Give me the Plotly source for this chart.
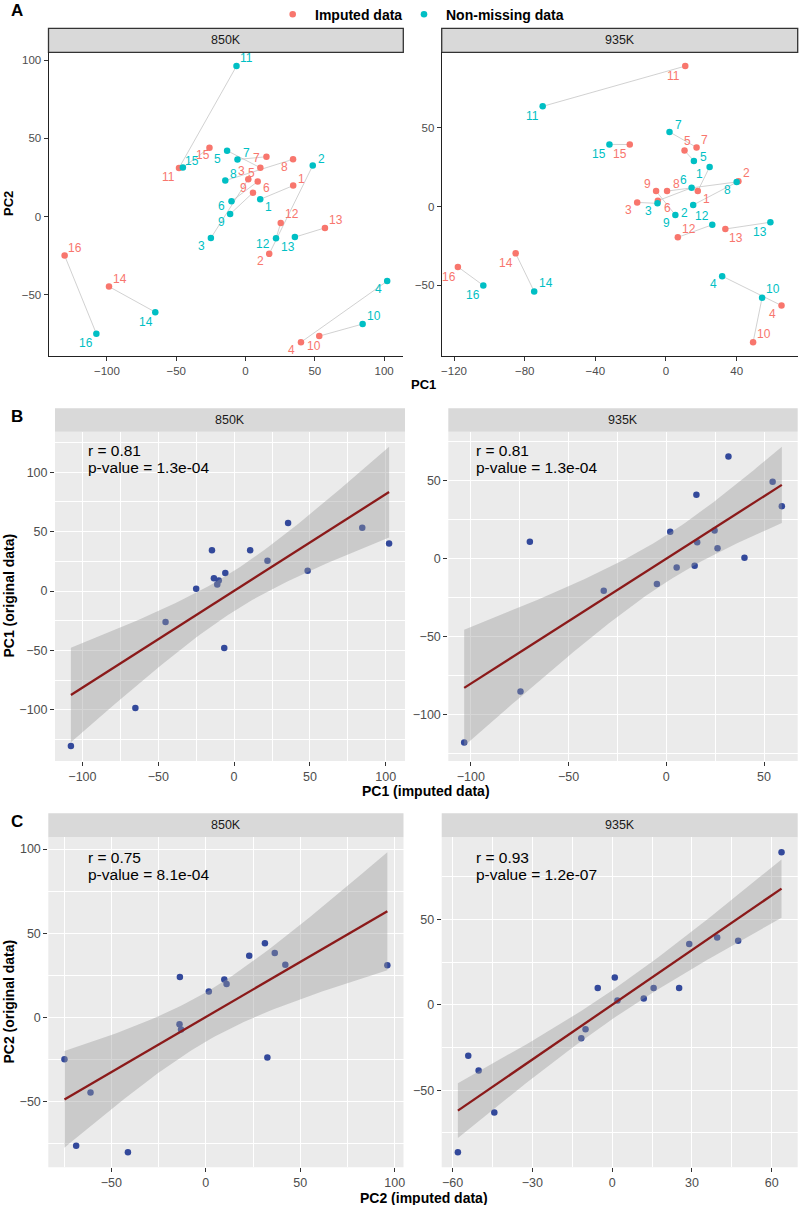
import numpy as np
import plotly.graph_objects as go

W, H = 800, 1205
FONT = "Liberation Sans, Arial, Helvetica, sans-serif"

SAMPLE_IDS = [str(i) for i in range(1, 17)]
DATASETS = ["850K", "935K"]
LEGEND_LABELS = ["Imputed data", "Non-missing data"]

# ---- data (samples 1..16) ----
# 850K
IMPUTED_PC1_850K = [34.4, 17.1, 2.0, 40.0, 10.7, 8.8, 15.1, 34.3, 5.4, 53.2, -48.0, 25.4, 57.3, -98.5, -26.0, -130.5]
IMPUTED_PC2_850K = [19.8, -23.8, 23.9, -80.2, 31.2, 22.4, 38.2, 36.6, 15.3, -76.3, 31.0, -4.1, -7.2, -44.7, 44.0, -24.9]
NONMISS_PC1_850K = [10.6, 48.5, -25.0, 102.2, -13.3, -10.1, -5.8, -14.6, -11.1, 84.5, -6.5, 22.0, 35.6, -65.1, -45.2, -107.6]
NONMISS_PC2_850K = [11.0, 32.6, -13.7, -41.2, 42.1, 9.8, 36.5, 23.0, 1.6, -68.6, 96.1, -13.9, -13.1, -61.0, 31.3, -74.8]
# 935K
IMPUTED_PC1_935K = [18.0, 41.0, -16.3, 65.4, 10.5, -4.6, 17.3, 0.6, -5.6, 49.3, 10.9, 6.7, 33.6, -85.1, -20.5, -117.8]
IMPUTED_PC2_935K = [9.8, 16.0, 2.6, -63.0, 35.6, 3.7, 37.6, 9.8, 9.8, -86.3, 89.3, -19.6, -14.3, -29.8, 39.4, -38.4]
NONMISS_PC1_935K = [24.7, 15.4, -4.8, 31.8, 15.8, 14.5, 2.0, 40.0, 5.3, 54.4, -69.8, 26.2, 59.1, -74.6, -32.0, -103.4]
NONMISS_PC2_935K = [25.2, 1.0, 2.0, -44.3, 29.0, 11.9, 47.4, 15.6, -5.4, -58.0, 63.7, -11.6, -10.0, -54.1, 39.5, -50.2]

STATS_TEXT = {
    ("B", "850K"): ("r = 0.81", "p-value = 1.3e-04"),
    ("B", "935K"): ("r = 0.81", "p-value = 1.3e-04"),
    ("C", "850K"): ("r = 0.75", "p-value = 8.1e-04"),
    ("C", "935K"): ("r = 0.93", "p-value = 1.2e-07"),
}

# ---- label offsets (pixels: right, down) for panel A text labels ----
OFFS_IMP_850 = [(8.3, -6.7), (-9, 7), (-7, -8.3), (-9, 7.7), (-8.7, 5), (8.7, 6.6), (-10.3, 1.3), (-9, 8),
                (-10, -4.2), (-5, 9.7), (-10.7, 9.4), (11, -9), (11, -8.3), (10.6, -7.7), (-6.7, 7.3), (10.7, -8)]
OFFS_NON_850 = [(8, 8), (8.6, -6.6), (-9, 8), (-8.7, 8), (-9.4, 8), (-9.7, 5), (8.7, -6.3), (8, -7),
                (-9, 8), (11, -8.3), (10, -8), (-12.7, 6), (-7, 10), (-9.6, 9.4), (8.7, -6.6), (-10.3, 9.6)]
OFFS_IMP_935 = [(8.3, 8.3), (8.3, -8), (-8.7, 8), (-8.7, 8.3), (3, -9.3), (9.6, 7.6), (8.3, -7), (9, -6.7),
                (-9, -6.7), (11, -8.3), (-11.3, 10), (10.7, -8.6), (11, 9.3), (-10, 9.4), (-9.7, 9.7), (-9, 10)]
OFFS_NON_935 = [(-9.7, 7.6), (-8.3, 7.6), (-8.7, 7.4), (-9, 8), (9.3, -4), (-8, -7.7), (8.6, -6.7), (-9.4, 8.3),
                (-8.6, 7.7), (10.7, -8.4), (-10.6, 9.7), (-10.6, -8.7), (-10.3, 9.4), (11.3, -8.4), (-10.3, 10), (-10.6, 9.6)]

RED = "#F8766D"
CYAN = "#00BFC4"
DOT_BLUE = "#33499B"
LINE_RED = "#8B1A1A"
T_975_DF14 = 2.1447866879169273


def pxx(x):
    return x / W


def pyy(y):
    return 1 - y / H


def expand(lo, hi, f=0.05):
    d = hi - lo
    return [lo - f * d, hi + f * d]


def smooth(x, y, ngrid=80):
    x = np.asarray(x, float)
    y = np.asarray(y, float)
    n = len(x)
    b1, b0 = np.polyfit(x, y, 1)
    xg = np.linspace(x.min(), x.max(), ngrid)
    yh = b0 + b1 * xg
    res = y - (b0 + b1 * x)
    s = np.sqrt((res ** 2).sum() / (n - 2))
    sxx = ((x - x.mean()) ** 2).sum()
    se = s * np.sqrt(1.0 / n + (xg - x.mean()) ** 2 / sxx)
    return xg, yh, yh - T_975_DF14 * se, yh + T_975_DF14 * se


fig = go.Figure()
annotations = []
shapes = []

# panel pixel geometry: (x0, x1, strip_top, plot_top, plot_bottom)
GEOM = {
    1: (48.5, 403.3, 28.3, 52.3, 356.0),
    2: (441.7, 797.7, 28.3, 52.3, 356.0),
    3: (55.0, 405.0, 408.3, 431.7, 761.0),
    4: (448.3, 797.7, 408.3, 431.7, 761.0),
    5: (48.3, 403.5, 813.3, 837.3, 1167.3),
    6: (441.7, 797.7, 813.3, 837.3, 1167.3),
}
DTICK = {1: (50, 50), 2: (40, 50), 3: (50, 50), 4: (50, 50), 5: (50, 50), 6: (30, 50)}

layout_axes = {}


def axname(i, a):
    return a + ("" if i == 1 else str(i))


def set_axes(i, xr, yr, classic):
    x0, x1, st, pt, pb = GEOM[i]
    dx, dy = DTICK[i]
    tsize = 11.5 if classic else 12.5
    common = dict(zeroline=False, ticks="outside", ticklen=4, tickwidth=1, tickcolor="#333333",
                  tickfont=dict(family=FONT, size=tsize, color="#4D4D4D"), tick0=0, showticklabels=True)
    if classic:
        common.update(showgrid=False, showline=True, linecolor="#222222", linewidth=1)
    else:
        common.update(showgrid=True, gridcolor="white", gridwidth=1.1, showline=False)
    xa = dict(common, domain=[pxx(x0), pxx(x1)], range=xr, dtick=dx, anchor=axname(i, "y"))
    ya = dict(common, domain=[pyy(pb), pyy(pt)], range=yr, dtick=dy, anchor=axname(i, "x"))
    if not classic:
        xa["minor"] = dict(dtick=dx / 2, tick0=0, showgrid=True, gridcolor="white", gridwidth=0.5, ticks="")
        ya["minor"] = dict(dtick=dy / 2, tick0=0, showgrid=True, gridcolor="white", gridwidth=0.5, ticks="")
        shapes.append(dict(type="rect", xref="paper", yref="paper", x0=pxx(x0), x1=pxx(x1),
                           y0=pyy(pb), y1=pyy(pt), fillcolor="#EBEBEB", line=dict(width=0), layer="below"))
    layout_axes["xaxis" + ("" if i == 1 else str(i))] = xa
    layout_axes["yaxis" + ("" if i == 1 else str(i))] = ya
    # strip
    shapes.append(dict(type="rect", xref="paper", yref="paper", x0=pxx(x0), x1=pxx(x1),
                       y0=pyy(pt), y1=pyy(st), fillcolor="#D9D9D9",
                       line=dict(color="#333333", width=1.3) if classic else dict(width=0), layer="below"))


# ---------------- Panel A ----------------
A_DATA = {
    "850K": (IMPUTED_PC1_850K, IMPUTED_PC2_850K, NONMISS_PC1_850K, NONMISS_PC2_850K, OFFS_IMP_850, OFFS_NON_850),
    "935K": (IMPUTED_PC1_935K, IMPUTED_PC2_935K, NONMISS_PC1_935K, NONMISS_PC2_935K, OFFS_IMP_935, OFFS_NON_935),
}
for k, ds in enumerate(DATASETS):
    i = k + 1
    ix, iy, nx, ny, oi, on = A_DATA[ds]
    xs = "x" if i == 1 else f"x{i}"
    ys = "y" if i == 1 else f"y{i}"
    lx, ly = [], []
    for a, b, c, d in zip(ix, iy, nx, ny):
        lx += [a, c, None]
        ly += [b, d, None]
    fig.add_trace(go.Scatter(x=lx, y=ly, mode="lines", line=dict(color="#BDBDBD", width=0.7),
                             xaxis=xs, yaxis=ys, showlegend=False, hoverinfo="skip"))
    fig.add_trace(go.Scatter(x=ix, y=iy, mode="markers", marker=dict(color=RED, size=6.5),
                             xaxis=xs, yaxis=ys, showlegend=False, name=LEGEND_LABELS[0]))
    fig.add_trace(go.Scatter(x=nx, y=ny, mode="markers", marker=dict(color=CYAN, size=6.5),
                             xaxis=xs, yaxis=ys, showlegend=False, name=LEGEND_LABELS[1]))
    for xv, yv, (ox, oy), s in zip(ix, iy, oi, SAMPLE_IDS):
        annotations.append(dict(x=xv, y=yv, xref=xs, yref=ys, text=s, showarrow=False, xshift=ox, yshift=-oy,
                                font=dict(family=FONT, size=12, color=RED)))
    for xv, yv, (ox, oy), s in zip(nx, ny, on, SAMPLE_IDS):
        annotations.append(dict(x=xv, y=yv, xref=xs, yref=ys, text=s, showarrow=False, xshift=ox, yshift=-oy,
                                font=dict(family=FONT, size=12, color=CYAN)))
    xr = expand(min(ix + nx), max(ix + nx))
    yr = expand(min(iy + ny), max(iy + ny))
    set_axes(i, xr, yr, classic=True)

# ---------------- Panels B and C ----------------
BC_DATA = {
    ("B", "850K"): (NONMISS_PC1_850K, IMPUTED_PC1_850K),
    ("B", "935K"): (NONMISS_PC1_935K, IMPUTED_PC1_935K),
    ("C", "850K"): (NONMISS_PC2_850K, IMPUTED_PC2_850K),
    ("C", "935K"): (NONMISS_PC2_935K, IMPUTED_PC2_935K),
}
idx = 3
for row in ["B", "C"]:
    for ds in DATASETS:
        i = idx
        xs, ys = f"x{i}", f"y{i}"
        xv, yv = BC_DATA[(row, ds)]
        fig.add_trace(go.Scatter(x=xv, y=yv, mode="markers", marker=dict(color=DOT_BLUE, size=6.5),
                                 xaxis=xs, yaxis=ys, showlegend=False))
        xg, yh, lo, hi = smooth(xv, yv)
        fig.add_trace(go.Scatter(x=np.concatenate([xg, xg[::-1]]), y=np.concatenate([hi, lo[::-1]]),
                                 fill="toself", fillcolor="rgba(153,153,153,0.4)", line=dict(width=0),
                                 mode="lines", xaxis=xs, yaxis=ys, showlegend=False, hoverinfo="skip"))
        fig.add_trace(go.Scatter(x=xg, y=yh, mode="lines", line=dict(color=LINE_RED, width=2.3),
                                 xaxis=xs, yaxis=ys, showlegend=False, hoverinfo="skip"))
        xr = expand(min(xv), max(xv))
        yr = expand(min(min(yv), lo.min()), max(max(yv), hi.max()))
        set_axes(i, xr, yr, classic=False)
        x0 = GEOM[i][0]
        tx = 86 if x0 < 100 else 474
        r_y, p_y = (450.8, 467.5) if row == "B" else (857.5, 874.2)
        rt, pt_ = STATS_TEXT[(row, ds)]
        for t, yy in [(rt, r_y), (pt_, p_y)]:
            annotations.append(dict(x=pxx(tx), y=pyy(yy), xref="paper", yref="paper", text=t, showarrow=False,
                                    xanchor="left", yanchor="middle",
                                    font=dict(family=FONT, size=15.5, color="black")))
        idx += 1

# strip labels
for i in range(1, 7):
    x0, x1, st, pt, pb = GEOM[i]
    annotations.append(dict(x=pxx((x0 + x1) / 2), y=pyy((st + pt) / 2), xref="paper", yref="paper",
                            text=DATASETS[(i - 1) % 2], showarrow=False, xanchor="center", yanchor="middle",
                            font=dict(family=FONT, size=12.5, color="#1A1A1A")))

# axis titles
TITLES = [
    ("PC1", 423, 384.5, 0, 13),
    ("PC2", 8, 204, -90, 13),
    ("PC1 (imputed data)", 426, 791, 0, 14),
    ("PC1 (original data)", 8.5, 596, -90, 14),
    ("PC2 (imputed data)", 424, 1198, 0, 14),
    ("PC2 (original data)", 8.5, 1002, -90, 14),
]
for t, x, y, ang, sz in TITLES:
    annotations.append(dict(x=pxx(x), y=pyy(y), xref="paper", yref="paper", text=f"<b>{t}</b>", showarrow=False,
                            xanchor="center", yanchor="middle", textangle=ang, borderpad=0,
                            font=dict(family=FONT, size=sz, color="black")))

# panel tags
for t, x, y in [("A", 16.5, 11), ("B", 16.5, 416), ("C", 16.5, 821)]:
    annotations.append(dict(x=pxx(x), y=pyy(y), xref="paper", yref="paper", text=f"<b>{t}</b>", showarrow=False,
                            xanchor="center", yanchor="middle", font=dict(family=FONT, size=17, color="black")))

# legend (manual)
for (cx, tx), col, lab in zip([(292.7, 312.7), (424.0, 444.3)], [RED, CYAN], LEGEND_LABELS):
    r = 3.3
    shapes.append(dict(type="circle", xref="paper", yref="paper", x0=pxx(cx - r), x1=pxx(cx + r),
                       y0=pyy(14.3 + r), y1=pyy(14.3 - r), fillcolor=col, line=dict(width=0)))
    annotations.append(dict(x=pxx(tx), y=pyy(14.6), xref="paper", yref="paper", text=f"<b>{lab}</b>",
                            showarrow=False, xanchor="left", yanchor="middle",
                            font=dict(family=FONT, size=14, color="black")))

fig.update_layout(
    width=W, height=H, autosize=False,
    margin=dict(l=0, r=0, t=0, b=0, pad=0),
    paper_bgcolor="white", plot_bgcolor="rgba(0,0,0,0)",
    template="none",
    showlegend=False,
    font=dict(family=FONT),
    annotations=annotations,
    shapes=shapes,
    **layout_axes,
)

fig.write_html("out.html")
